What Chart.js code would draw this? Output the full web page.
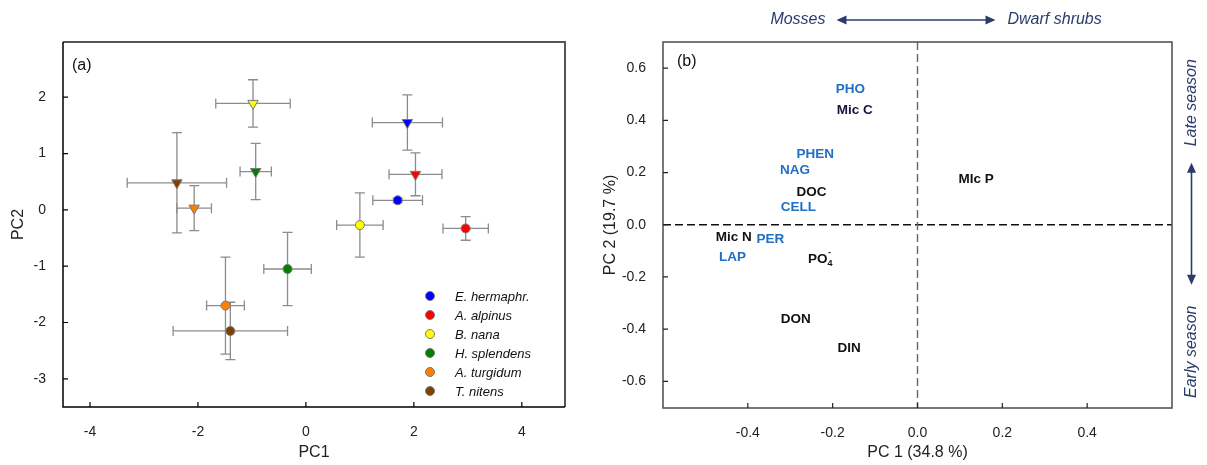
<!DOCTYPE html>
<html>
<head>
<meta charset="utf-8">
<script src="https://cdn.jsdelivr.net/npm/chart.js@4.4.1/dist/chart.umd.min.js"></script>
<style>
body{margin:0;background:#fff;}
#wrapA{position:absolute;left:0;top:0;width:595px;height:465px;}
#wrapB{position:absolute;left:595px;top:0;width:612px;height:465px;}
</style>
</head>
<body>
<div id="wrapA"><canvas id="chartA" width="595" height="465"></canvas></div>
<div id="wrapB"><canvas id="chartB" width="612" height="465"></canvas></div>
<script>
// panel (a) - species means on PC1/PC2 with error bars
const species = ['E. hermaphr.', 'A. alpinus', 'B. nana', 'H. splendens', 'A. turgidum', 'T. nitens'];
const speciesColors = ['#0000ff', '#ff0000', '#ffff00', '#008000', '#ff8000', '#804000'];

// circles
const circX = [1.70, 2.96, 1.00, -0.34, -1.49, -1.40];
const circY = [0.17, -0.33, -0.27, -1.05, -1.70, -2.15];
const circXErr = [0.46, 0.42, 0.43, 0.44, 0.35, 1.06];
const circYErr = [0.04, 0.21, 0.57, 0.65, 0.86, 0.51];

// triangles
const triX = [1.88, 2.03, -0.98, -0.93, -2.07, -2.39];
const triY = [1.55, 0.63, 1.89, 0.68, 0.03, 0.48];
const triXErr = [0.65, 0.49, 0.69, 0.29, 0.32, 0.92];
const triYErr = [0.49, 0.38, 0.42, 0.50, 0.40, 0.89];

// panel (b) - loadings
const loadLabels = ['PHO', 'Mic C', 'PHEN', 'NAG', 'DOC', 'CELL', 'Mic N', 'PER', 'LAP', 'PO4-', 'DON', 'DIN', 'MIc P'];
const loadX = [-0.158, -0.148, -0.241, -0.289, -0.250, -0.281, -0.433, -0.347, -0.436, -0.229, -0.287, -0.161, 0.138];
const loadY = [0.518, 0.438, 0.271, 0.210, 0.126, 0.066, -0.047, -0.055, -0.123, -0.131, -0.363, -0.474, 0.174];
const loadColors = ['#1f6fc6', '#15163f', '#1f6fc6', '#1f6fc6', '#111', '#1f6fc6', '#111', '#1f6fc6', '#1f6fc6', '#111', '#111', '#111', '#111'];

const fam = '"Liberation Sans", Arial, sans-serif';
const navy = '#2b3c6c';

function inwardTicks(ctx, chart) {
  const a = chart.chartArea, x = chart.scales.x, y = chart.scales.y;
  ctx.beginPath();
  x.ticks.forEach(t => {
    if (t.label === '' || t.label == null) return;
    const px = x.getPixelForValue(t.value);
    ctx.moveTo(px, a.bottom); ctx.lineTo(px, a.bottom - 5);
  });
  y.ticks.forEach(t => {
    if (t.label === '' || t.label == null) return;
    const py = y.getPixelForValue(t.value);
    ctx.moveTo(a.left, py); ctx.lineTo(a.left + 5, py);
  });
  ctx.stroke();
}

const errBars = {
  id: 'errBars',
  beforeDatasetsDraw(chart) {
    const {ctx, scales: {x, y}} = chart;
    ctx.save();
    ctx.strokeStyle = '#8c8c8c';
    ctx.lineWidth = 1.3;
    chart.data.datasets.forEach(ds => {
      ds.data.forEach((p, i) => {
        const cx = x.getPixelForValue(p.x), cy = y.getPixelForValue(p.y);
        const x0 = x.getPixelForValue(p.x - ds.xErr[i]), x1 = x.getPixelForValue(p.x + ds.xErr[i]);
        const y0 = y.getPixelForValue(p.y - ds.yErr[i]), y1 = y.getPixelForValue(p.y + ds.yErr[i]);
        ctx.beginPath();
        ctx.moveTo(x0, cy); ctx.lineTo(x1, cy);
        ctx.moveTo(x0, cy - 5); ctx.lineTo(x0, cy + 5);
        ctx.moveTo(x1, cy - 5); ctx.lineTo(x1, cy + 5);
        ctx.moveTo(cx, y0); ctx.lineTo(cx, y1);
        ctx.moveTo(cx - 5, y0); ctx.lineTo(cx + 5, y0);
        ctx.moveTo(cx - 5, y1); ctx.lineTo(cx + 5, y1);
        ctx.stroke();
      });
    });
    ctx.restore();
  }
};

const frameA = {
  id: 'frameA',
  afterDraw(chart) {
    const ctx = chart.ctx, a = chart.chartArea;
    ctx.save();
    ctx.strokeStyle = '#555'; ctx.lineWidth = 2;
    ctx.beginPath(); ctx.moveTo(a.left, a.top); ctx.lineTo(a.right, a.top); ctx.lineTo(a.right, a.bottom); ctx.stroke();
    ctx.strokeStyle = '#000'; ctx.lineWidth = 1.5;
    ctx.beginPath(); ctx.moveTo(a.left, a.top); ctx.lineTo(a.left, a.bottom); ctx.lineTo(a.right, a.bottom); ctx.stroke();
    ctx.lineWidth = 1.2;
    inwardTicks(ctx, chart);
    // panel letter
    ctx.fillStyle = '#111';
    ctx.font = '16px ' + fam;
    ctx.textBaseline = 'middle';
    ctx.fillText('(a)', a.left + 9, a.top + 24);
    // legend
    ctx.font = 'italic 13px ' + fam;
    species.forEach((s, i) => {
      const ly = 296 + i * 19;
      ctx.beginPath();
      ctx.arc(430, ly, 4.5, 0, Math.PI * 2);
      ctx.fillStyle = speciesColors[i]; ctx.fill();
      ctx.strokeStyle = '#777'; ctx.lineWidth = 1; ctx.stroke();
      ctx.fillStyle = '#111';
      ctx.fillText(s, 455, ly + 1);
    });
    ctx.restore();
  }
};

new Chart(document.getElementById('chartA'), {
  type: 'scatter',
  data: {
    datasets: [
      {
        label: 'circles',
        data: circX.map((v, i) => ({x: v, y: circY[i]})),
        xErr: circXErr, yErr: circYErr,
        pointStyle: 'circle', pointRadius: 4.5,
        pointBackgroundColor: speciesColors, pointBorderColor: '#777', pointBorderWidth: 1
      },
      {
        label: 'triangles',
        data: triX.map((v, i) => ({x: v, y: triY[i]})),
        xErr: triXErr, yErr: triYErr,
        pointStyle: 'triangle', pointRotation: 180, pointRadius: 6,
        pointBackgroundColor: speciesColors, pointBorderColor: '#777', pointBorderWidth: 1
      }
    ]
  },
  options: {
    responsive: false, animation: false, devicePixelRatio: 1,
    layout: {padding: {top: 42, right: 30, left: 0, bottom: 0}},
    plugins: {legend: {display: false}, tooltip: {enabled: false}},
    scales: {
      x: {
        type: 'linear', min: -4.5, max: 4.8,
        afterFit(s) { s.height = 58; },
        grid: {display: false}, border: {display: false},
        ticks: {stepSize: 2, includeBounds: false, autoSkip: false, maxRotation: 0, padding: 9, color: '#222',
          font: {family: fam, size: 14}, callback: v => String(v)},
        title: {display: true, text: 'PC1', color: '#222', font: {family: fam, size: 16}, padding: {top: 0, bottom: 3}}
      },
      y: {
        type: 'linear', min: -3.5, max: 2.98,
        afterFit(s) { s.width = 63; },
        grid: {display: false}, border: {display: false},
        ticks: {stepSize: 1, includeBounds: false, autoSkip: false, padding: 9, color: '#222',
          font: {family: fam, size: 14}, callback: v => String(v)},
        title: {display: true, text: 'PC2', color: '#222', font: {family: fam, size: 16}, padding: {top: 9, bottom: 0}}
      }
    }
  },
  plugins: [errBars, frameA]
});

// ---- panel (b)
function arrowHead(ctx, x, y, dx, dy) {
  // dx,dy unit direction of the tip
  const L = 10, W = 4.5;
  ctx.beginPath();
  ctx.moveTo(x, y);
  ctx.lineTo(x - dx * L - dy * W, y - dy * L + dx * W);
  ctx.lineTo(x - dx * L + dy * W, y - dy * L - dx * W);
  ctx.closePath();
  ctx.fill();
}

const zeroLines = {
  id: 'zeroLines',
  beforeDatasetsDraw(chart) {
    const {ctx, chartArea: a, scales: {x, y}} = chart;
    ctx.save();
    ctx.lineWidth = 1.4;
    ctx.setLineDash([8, 4]);
    ctx.strokeStyle = '#111';
    const py = y.getPixelForValue(0);
    ctx.beginPath(); ctx.moveTo(a.left, py); ctx.lineTo(a.right, py); ctx.stroke();
    ctx.strokeStyle = '#666';
    const px = x.getPixelForValue(0);
    ctx.beginPath(); ctx.moveTo(px, a.top); ctx.lineTo(px, a.bottom); ctx.stroke();
    ctx.restore();
  }
};

const textLabels = {
  id: 'textLabels',
  afterDatasetsDraw(chart) {
    const ctx = chart.ctx;
    const meta = chart.getDatasetMeta(0);
    ctx.save();
    ctx.textBaseline = 'middle';
    meta.data.forEach((pt, i) => {
      const lab = loadLabels[i];
      ctx.fillStyle = loadColors[i];
      if (lab === 'PO4-') {
        ctx.font = 'bold 13.5px ' + fam;
        const w1 = ctx.measureText('PO').width;
        ctx.font = 'bold 9px ' + fam;
        const w2 = ctx.measureText('4').width;
        const x0 = pt.x - (w1 + w2) / 2;
        ctx.textAlign = 'left';
        ctx.font = 'bold 13.5px ' + fam;
        ctx.fillText('PO', x0, pt.y);
        ctx.font = 'bold 9px ' + fam;
        ctx.fillText('4', x0 + w1, pt.y + 5);
        ctx.fillText('-', x0 + w1 + 0.5, pt.y - 6);
      } else {
        ctx.font = 'bold 13.5px ' + fam;
        ctx.textAlign = 'center';
        ctx.fillText(lab, pt.x, pt.y);
      }
    });
    ctx.restore();
  }
};

const frameB = {
  id: 'frameB',
  afterDraw(chart) {
    const {ctx, chartArea: a, scales: {x, y}} = chart;
    ctx.save();
    ctx.strokeStyle = '#555'; ctx.lineWidth = 1.6;
    ctx.strokeRect(a.left, a.top, a.right - a.left, a.bottom - a.top);
    ctx.strokeStyle = '#222'; ctx.lineWidth = 1.2;
    inwardTicks(ctx, chart);
    ctx.fillStyle = '#111';
    ctx.font = '16px ' + fam;
    ctx.textBaseline = 'middle';
    ctx.fillText('(b)', a.left + 14, a.top + 20);

    // top arrow: Mosses <-> Dwarf shrubs
    const cx = x.getPixelForValue(0), ty = 20;
    ctx.strokeStyle = navy; ctx.fillStyle = navy; ctx.lineWidth = 1.6;
    ctx.beginPath(); ctx.moveTo(cx - 76, ty); ctx.lineTo(cx + 72, ty); ctx.stroke();
    arrowHead(ctx, cx - 81, ty, -1, 0);
    arrowHead(ctx, cx + 78, ty, 1, 0);
    ctx.font = 'italic 16px ' + fam;
    ctx.textAlign = 'right';
    ctx.fillText('Mosses', cx - 92, ty);
    ctx.textAlign = 'left';
    ctx.fillText('Dwarf shrubs', cx + 90, ty);

    // right arrow: Late season <-> Early season
    const cy = y.getPixelForValue(0), rx = a.right + 19.5;
    ctx.beginPath(); ctx.moveTo(rx, cy - 57); ctx.lineTo(rx, cy + 55); ctx.stroke();
    arrowHead(ctx, rx, cy - 62, 0, -1);
    arrowHead(ctx, rx, cy + 60, 0, 1);
    ctx.textAlign = 'center';
    ctx.save(); ctx.translate(rx, cy - 122); ctx.rotate(-Math.PI / 2); ctx.fillText('Late season', 0, 0); ctx.restore();
    ctx.save(); ctx.translate(rx, cy + 127); ctx.rotate(-Math.PI / 2); ctx.fillText('Early season', 0, 0); ctx.restore();
    ctx.restore();
  }
};

new Chart(document.getElementById('chartB'), {
  type: 'scatter',
  data: {
    datasets: [{
      label: 'loadings',
      data: loadX.map((v, i) => ({x: v, y: loadY[i]})),
      pointRadius: 0
    }]
  },
  options: {
    responsive: false, animation: false, devicePixelRatio: 1,
    layout: {padding: {top: 42, right: 35, left: 0, bottom: 0}},
    plugins: {legend: {display: false}, tooltip: {enabled: false}},
    scales: {
      x: {
        type: 'linear', min: -0.6, max: 0.6,
        afterFit(s) { s.height = 57; },
        grid: {display: false}, border: {display: false},
        ticks: {stepSize: 0.2, autoSkip: false, maxRotation: 0, padding: 9, color: '#222',
          font: {family: fam, size: 14},
          callback: v => Math.abs(v) > 0.5 ? null : (Math.abs(v) < 1e-9 ? '0.0' : v.toFixed(1))},
        title: {display: true, text: 'PC 1 (34.8 %)', color: '#222', font: {family: fam, size: 16}, padding: {top: 0, bottom: 3}}
      },
      y: {
        type: 'linear', min: -0.702, max: 0.7,
        afterFit(s) { s.width = 68; },
        grid: {display: false}, border: {display: false},
        ticks: {stepSize: 0.2, includeBounds: false, autoSkip: false, padding: 9, color: '#222',
          font: {family: fam, size: 14},
          callback: v => Math.abs(v) < 1e-9 ? '0.0' : v.toFixed(1)},
        title: {display: true, text: 'PC 2 (19.7 %)', color: '#222', font: {family: fam, size: 16}, padding: {top: 6, bottom: 0}}
      }
    }
  },
  plugins: [zeroLines, textLabels, frameB]
});
</script>
</body>
</html>
